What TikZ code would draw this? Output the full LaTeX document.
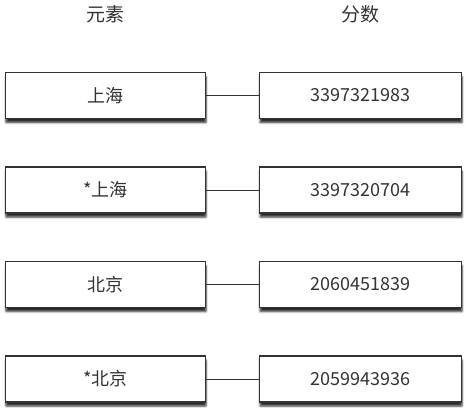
\documentclass[tikz,border=0pt]{standalone}
\usepackage{fontspec}
\setmainfont{Noto Sans CJK SC}
\usetikzlibrary{shadows.blur}
\definecolor{ink}{HTML}{333333}
\tikzset{
  x=1pt, y=-1pt,
  cell/.style={draw=ink, line width=1.3pt, fill=white, minimum width=200pt,
    minimum height=46pt, inner sep=0pt, text=ink, font=\fontsize{18}{20}\selectfont,
    blur shadow={shadow xshift=0.5pt, shadow yshift=-4pt, shadow blur steps=5,
      shadow blur extra rounding=0.5pt, shadow opacity=85}},
  head/.style={text=ink, font=\fontsize{19}{21}\selectfont, inner sep=0pt},
  link/.style={draw=ink, line width=1pt}
}
\begin{document}
\begin{tikzpicture}
\useasboundingbox (0,0) rectangle (465,415);
% column headings
\node[head] (h1) at (105.5,14) {元素};
\node[head] (h2) at (360.5,14) {分数};
% member / score pairs
\foreach \i/\name/\score/\yy in {1/上海/3397321983/95.5, 2/*上海/3397320704/190, 3/北京/2060451839/284.5, 4/*北京/2059943936/379} {
  \node[cell] (m\i) at (105.5,\yy) {\name};
  \node[cell, minimum width=202pt] (s\i) at (360.5,\yy) {\score};
  \draw[link] (m\i.east) -- (s\i.west);
}
\end{tikzpicture}
\end{document}
